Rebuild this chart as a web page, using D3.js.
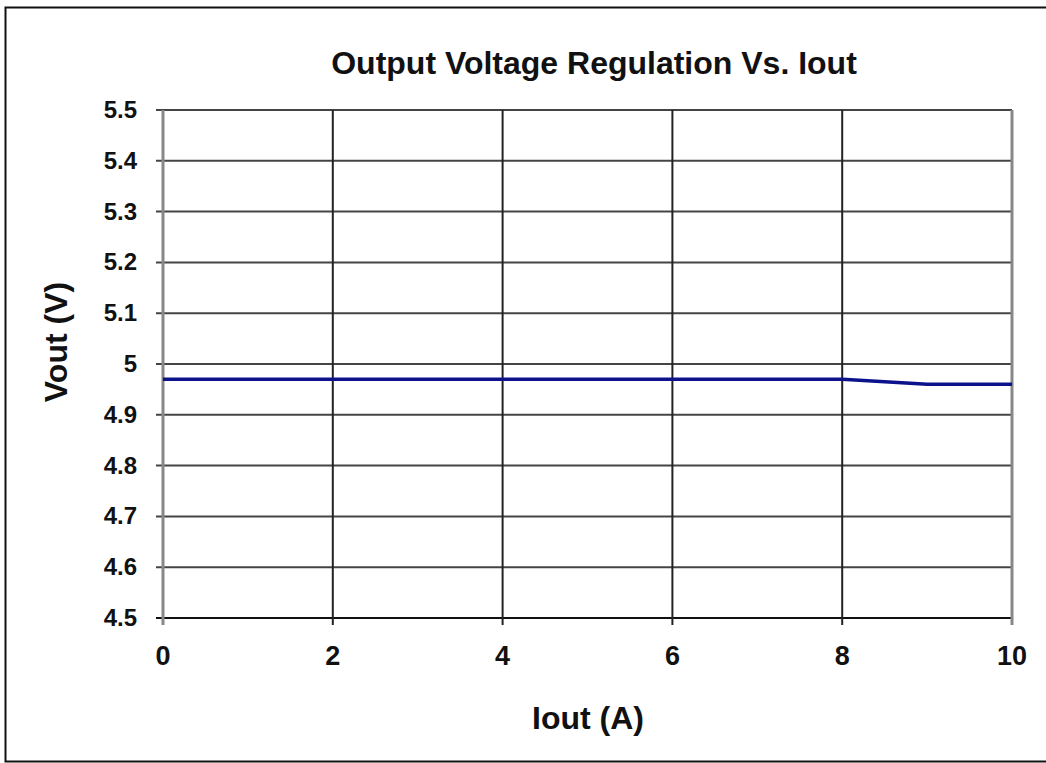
<!DOCTYPE html>
<html>
<head>
<meta charset="utf-8">
<script src="https://cdn.jsdelivr.net/npm/d3@7"></script>
<style>
  body { margin: 0; background: #fff; }
  svg text { fill: #111; }
  .tick-lbl { font-family: "Liberation Sans Narrow", "Arial Narrow", sans-serif; font-weight: bold; }
  .ttl { font-family: "Liberation Sans", Arial, sans-serif; font-weight: bold; font-size: 32px; }
</style>
</head>
<body>
<div id="chart"></div>
<script>
const iout = [0, 1, 2, 3, 4, 5, 6, 7, 8, 9, 10];
const vout = [4.97, 4.97, 4.97, 4.97, 4.97, 4.97, 4.97, 4.97, 4.97, 4.96, 4.96];
const xTicks = [0, 2, 4, 6, 8, 10];
const yTicks = [4.5, 4.6, 4.7, 4.8, 4.9, 5.0, 5.1, 5.2, 5.3, 5.4, 5.5];

const w = 1046, h = 763;
const pLeft = 163, pRight = 1012, pTop = 110, pBottom = 618;

const svg = d3.select('#chart').append('svg')
  .attr('width', w).attr('height', h);

// outer frame
svg.append('rect')
  .attr('x', 5.5).attr('y', 7.5).attr('width', 1060).attr('height', 754)
  .attr('fill', 'none').attr('stroke', '#111').attr('stroke-width', 2);

const x = d3.scaleLinear().domain([0, 10]).range([pLeft, pRight]);
const y = d3.scaleLinear().domain([4.5, 5.5]).range([pBottom, pTop]);

// horizontal grid
svg.append('g').selectAll('line').data(yTicks).enter().append('line')
  .attr('x1', pLeft - 7).attr('x2', pRight)
  .attr('y1', d => y(d)).attr('y2', d => y(d))
  .attr('stroke', d => d === 4.5 ? '#111' : '#444').attr('stroke-width', 2);

// vertical grid
svg.append('g').selectAll('line').data(xTicks).enter().append('line')
  .attr('x1', d => x(d)).attr('x2', d => x(d))
  .attr('y1', pTop).attr('y2', pBottom + 7)
  .attr('stroke', d => (d === 0 || d === 10) ? '#888' : '#222')
  .attr('stroke-width', d => (d === 0 || d === 10) ? 3 : 2);

// y tick labels
svg.append('g').selectAll('text').data(yTicks).enter().append('text')
  .attr('class', 'tick-lbl')
  .style('font-size', '24px')
  .attr('x', 137).attr('y', d => y(d) + 8)
  .attr('text-anchor', 'end')
  .text(d => d3.format('')(+d.toFixed(1)));

// x tick labels
svg.append('g').selectAll('text').data(xTicks).enter().append('text')
  .attr('class', 'tick-lbl')
  .style('font-size', '27px')
  .attr('x', d => x(d)).attr('y', 665)
  .attr('text-anchor', 'middle')
  .text(d => d);

// data line
const line = d3.line().x((d, i) => x(iout[i])).y(d => y(d));
svg.append('path')
  .datum(vout)
  .attr('d', line)
  .attr('fill', 'none')
  .attr('stroke', '#0c128a')
  .attr('stroke-width', 3.5);

// title & axis titles
svg.append('text').attr('class', 'ttl')
  .attr('x', 594).attr('y', 74)
  .attr('text-anchor', 'middle')
  .text('Output Voltage Regulation Vs. Iout');

svg.append('text').attr('class', 'ttl')
  .attr('x', 588).attr('y', 729)
  .attr('text-anchor', 'middle')
  .text('Iout (A)');

svg.append('text').attr('class', 'ttl')
  .attr('transform', 'translate(67,342) rotate(-90)')
  .attr('text-anchor', 'middle')
  .text('Vout (V)');
</script>
</body>
</html>
